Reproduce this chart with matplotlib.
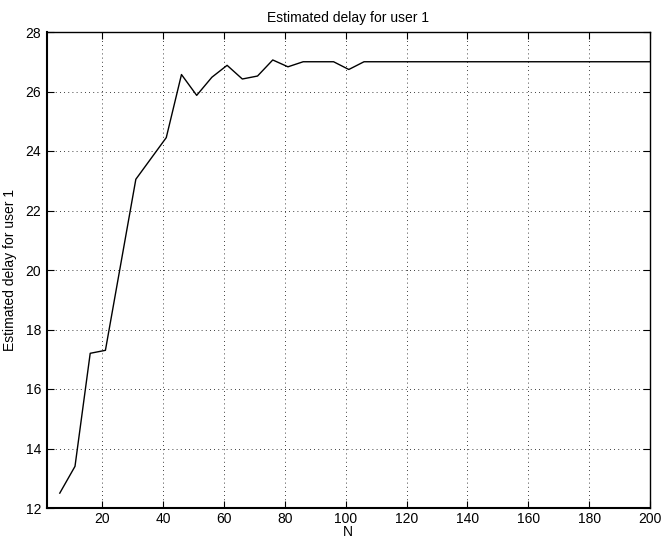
import matplotlib
matplotlib.use("Agg")
import matplotlib.pyplot as plt

N = [6, 11, 16, 21, 31, 41, 46, 51, 56, 61, 66, 71, 76, 81, 86, 91, 96, 101, 106, 200]
delay = [12.5, 13.4, 17.2, 17.3, 23.05, 24.45, 26.57, 25.87, 26.48, 26.88, 26.42, 26.52,
         27.06, 26.83, 27.0, 27.0, 27.0, 26.74, 27.0, 27.0]
xticks = [20, 40, 60, 80, 100, 120, 140, 160, 180, 200]
yticks = [12, 14, 16, 18, 20, 22, 24, 26, 28]

plt.rcParams['font.family'] = ['Liberation Sans', 'DejaVu Sans']
plt.rcParams['font.size'] = 10

fig = plt.figure(figsize=(6.62, 5.40), dpi=100)
ax = fig.add_axes([46.7 / 662, 1 - 508 / 540, (650 - 46.7) / 662, (508 - 32) / 540])
ax.plot(N, delay, color='black', linewidth=1.0)
ax.set_xlim(1.7, 200)
ax.set_ylim(12, 28)
ax.set_xticks(xticks)
ax.set_yticks(yticks)
ax.grid(True, color='black', linestyle=(0, (1, 4)), linewidth=0.6)
ax.tick_params(direction='in', length=5, top=True, right=True, width=0.8, labelsize=10, pad=4)
ax.tick_params(axis='x', pad=3)
for s in ax.spines.values():
    s.set_linewidth(1.0)
ax.spines['left'].set_linewidth(1.5)
ax.spines['bottom'].set_linewidth(1.5)
ax.set_title('Estimated delay for user 1', fontsize=10, pad=7)
ax.set_xlabel('N', fontsize=10, labelpad=-0.5)
ax.set_ylabel('Estimated delay for user 1', fontsize=10, labelpad=6)
fig.savefig('out.png', dpi=100)
